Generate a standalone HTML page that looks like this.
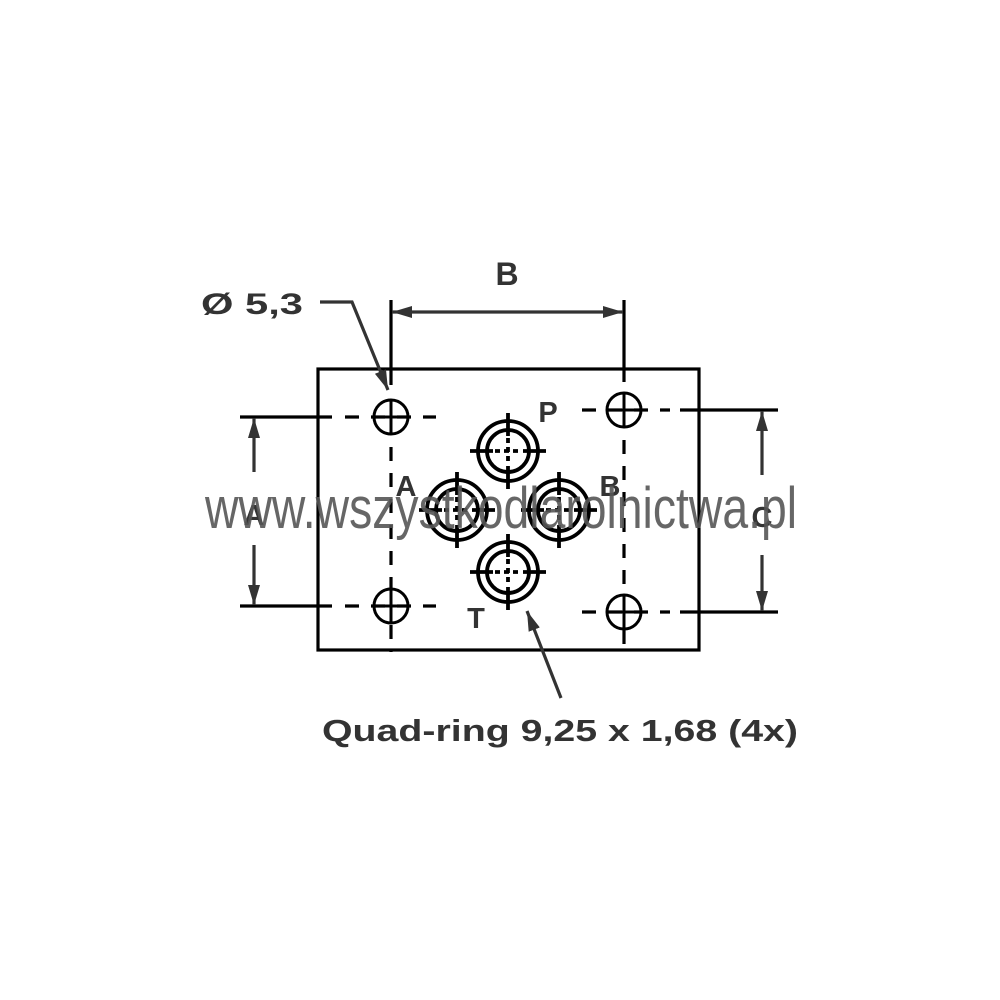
<!DOCTYPE html>
<html><head><meta charset="utf-8"><style>html,body{margin:0;padding:0;background:#fff}svg{display:block}</style></head>
<body>
<svg width="1000" height="1000" viewBox="0 0 1000 1000" xmlns="http://www.w3.org/2000/svg">
<defs>
<marker id="ar2" viewBox="0 0 20 12" refX="20" refY="6" markerWidth="20" markerHeight="12" markerUnits="userSpaceOnUse" orient="auto-start-reverse" preserveAspectRatio="none">
<path d="M0,0 L20,6 L0,12 Z" fill="#333"/></marker>
</defs>
<g stroke="#000" stroke-width="3.2" fill="none">
<rect x="318" y="369" width="381" height="281"/>
<line x1="240" y1="417" x2="332" y2="417"/>
<line x1="240" y1="606" x2="332" y2="606"/>
<line x1="680" y1="410" x2="778" y2="410"/>
<line x1="680" y1="612" x2="778" y2="612"/>
<line x1="391" y1="300" x2="391" y2="385"/>
<line x1="624" y1="300" x2="624" y2="382"/>
<g stroke-dasharray="14,12">
<line x1="345" y1="417" x2="436" y2="417"/>
<line x1="345" y1="606" x2="436" y2="606"/>
<line x1="582" y1="410" x2="670" y2="410"/>
<line x1="582" y1="612" x2="670" y2="612"/>
<line x1="391" y1="447" x2="391" y2="590"/>
<line x1="391" y1="625" x2="391" y2="652"/>
<line x1="624" y1="440" x2="624" y2="595"/>
<line x1="624" y1="630" x2="624" y2="655"/>
</g>
<g stroke-width="3">
<circle cx="391" cy="417" r="17"/><line x1="374" y1="417" x2="408" y2="417"/><line x1="391" y1="400" x2="391" y2="434"/>
<circle cx="391" cy="606" r="17"/><line x1="374" y1="606" x2="408" y2="606"/><line x1="391" y1="589" x2="391" y2="623"/>
<circle cx="624" cy="410" r="17"/><line x1="607" y1="410" x2="641" y2="410"/><line x1="624" y1="393" x2="624" y2="427"/>
<circle cx="624" cy="612" r="17"/><line x1="607" y1="612" x2="641" y2="612"/><line x1="624" y1="595" x2="624" y2="629"/>
</g>
</g>
<g stroke="#000" stroke-width="3.8" fill="none">
<g transform="translate(508,451)"><circle r="30"/><circle r="21"/><path d="M-38,0H-15M15,0H38M0,-38V-15M0,15V38"/><path d="M-13,0H13M0,-13V13" stroke-dasharray="5,4"/></g>
<g transform="translate(457,510)"><circle r="30"/><circle r="21"/><path d="M-38,0H-15M15,0H38M0,-38V-15M0,15V38"/><path d="M-13,0H13M0,-13V13" stroke-dasharray="5,4"/></g>
<g transform="translate(559,510)"><circle r="30"/><circle r="21"/><path d="M-38,0H-15M15,0H38M0,-38V-15M0,15V38"/><path d="M-13,0H13M0,-13V13" stroke-dasharray="5,4"/></g>
<g transform="translate(508,572)"><circle r="30"/><circle r="21"/><path d="M-38,0H-15M15,0H38M0,-38V-15M0,15V38"/><path d="M-13,0H13M0,-13V13" stroke-dasharray="5,4"/></g>
</g>
<g stroke="#333" stroke-width="3.2" fill="none">
<line x1="392" y1="312" x2="623" y2="312" marker-start="url(#ar2)" marker-end="url(#ar2)"/>
<line x1="254" y1="472" x2="254" y2="418" marker-end="url(#ar2)"/>
<line x1="254" y1="545" x2="254" y2="605" marker-end="url(#ar2)"/>
<line x1="762" y1="475" x2="762" y2="411" marker-end="url(#ar2)"/>
<line x1="762" y1="555" x2="762" y2="611" marker-end="url(#ar2)"/>
<polyline points="320,302 352,302 388,390" marker-end="url(#ar2)"/>
<line x1="561" y1="698" x2="527" y2="611" marker-end="url(#ar2)"/>
</g>
<g font-family="Liberation Sans, sans-serif" font-weight="bold" fill="#333" text-anchor="middle">
<text x="507" y="285" font-size="32">B</text>
<text x="252" y="314" font-size="30" textLength="102" lengthAdjust="spacingAndGlyphs">Ø 5,3</text>
<text x="548" y="422" font-size="29">P</text>
<text x="406" y="496" font-size="29">A</text>
<text x="610" y="496" font-size="29">B</text>
<text x="476" y="628" font-size="29">T</text>
<text x="254" y="525" font-size="29">A</text>
<text x="762" y="527" font-size="29">C</text>
<text x="560" y="741" font-size="31" textLength="476" lengthAdjust="spacingAndGlyphs">Quad-ring 9,25 x 1,68 (4x)</text>
</g>
<text x="205" y="528" font-family="Liberation Sans Narrow, Liberation Sans, sans-serif" font-size="58" fill="#555" fill-opacity="0.9" textLength="592" lengthAdjust="spacingAndGlyphs">www.wszystkodlarolnictwa.pl</text>
</svg>
</body></html>
